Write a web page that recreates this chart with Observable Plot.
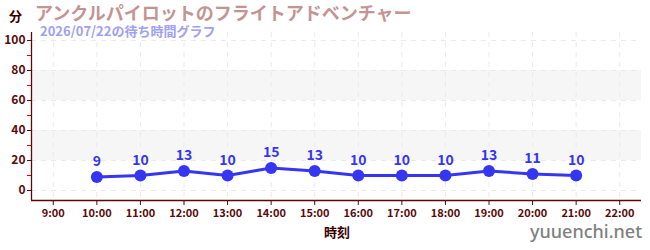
<!DOCTYPE html>
<html><head><meta charset="utf-8">
<script src="https://cdn.jsdelivr.net/npm/d3@7"></script>
<script src="https://cdn.jsdelivr.net/npm/@observablehq/plot@0.6"></script>
<style>
body{margin:0;background:#fff;font-family:"Noto Sans CJK JP","Noto Sans",sans-serif;}
#wrap{position:relative;width:650px;height:250px;overflow:hidden;}
.t{position:absolute;white-space:nowrap;font-weight:bold;line-height:1;}
</style></head>
<body><div id="wrap"></div>
<script>
const title = "アンクルパイロットのフライトアドベンチャー";
const subtitle = "2026/07/22の待ち時間グラフ";
const yUnit = "分";
const xLabel = "時刻";
const site = "yuuenchi.net";
const hours = [10, 11, 12, 13, 14, 15, 16, 17, 18, 19, 20, 21];
const waits = [9, 10, 13, 10, 15, 13, 10, 10, 10, 13, 11, 10];
const xTicks = [9, 10, 11, 12, 13, 14, 15, 16, 17, 18, 19, 20, 21, 22];
const yTicks = [0, 20, 40, 60, 80, 100];
const yMinor = [10, 30, 50, 70, 90];
const bandLo = [20, 60];
const bandHi = [40, 80];

const data = hours.map((h, i) => ({h, w: waits[i]}));
const bands = bandLo.map((lo, i) => ({lo, hi: bandHi[i]}));
const xDom = [8.5, 22.5], yDom = [-6.67, 105.33];
const axisColor = "#5a0a0a";
const blue = "#3636f2";

const chart = Plot.plot({
  width: 650, height: 250,
  marginLeft: 31, marginRight: 9, marginTop: 32, marginBottom: 50,
  x: {domain: xDom, axis: null},
  y: {domain: yDom, axis: null},
  style: {fontFamily: '"Noto Sans CJK JP","Noto Sans",sans-serif', background: "transparent"},
  marks: [
    Plot.rect(bands, {x1: xDom[0], x2: xDom[1], y1: "lo", y2: "hi", fill: "#f6f6f6"}),
    Plot.ruleY(yTicks, {stroke: "#eaeaea", strokeDasharray: "5,5", strokeWidth: 1}),
    Plot.ruleX(xTicks, {stroke: "#eaeaea", strokeDasharray: "5,5", strokeWidth: 1}),
    Plot.axisY({ticks: yMinor, tickFormat: () => "", tickSize: 4, stroke: "#e00000", anchor: "left", label: null}),
    Plot.axisY({ticks: yTicks, tickSize: 4, stroke: axisColor, fill: axisColor, fontSize: 12, fontWeight: "bold", tickPadding: 2, anchor: "left", label: null}),
    Plot.axisX({ticks: xTicks, tickFormat: d => d + ":00", tickSize: 5, stroke: axisColor, fill: axisColor, fontSize: 11, fontWeight: "bold", anchor: "bottom", tickPadding: 4, label: null}),
    Plot.ruleX([xDom[0]], {stroke: axisColor, strokeWidth: 1.3}),
    Plot.ruleY([yDom[0]], {stroke: axisColor, strokeWidth: 1.3}),
    Plot.line(data, {x: "h", y: "w", stroke: blue, strokeWidth: 3}),
    Plot.dot(data, {x: "h", y: "w", fill: blue, r: 6}),
    Plot.text(data, {x: "h", y: "w", text: d => String(d.w), dy: -15, fill: blue, fontSize: 14, fontWeight: "bold"})
  ]
});
const wrap = document.getElementById("wrap");
chart.style.position = "absolute"; chart.style.left = "0"; chart.style.top = "0";
wrap.appendChild(chart);
function addText(txt, css) {
  const d = document.createElement("div");
  d.className = "t"; d.textContent = txt;
  Object.assign(d.style, css);
  wrap.appendChild(d);
}
addText(title, {left: "35px", top: "3px", fontSize: "18px", color: "#c49494"});
addText(subtitle, {left: "40px", top: "24px", fontSize: "13px", color: "#a0a0f4"});
addText(yUnit, {left: "9px", top: "9px", fontSize: "13px", color: "#3a0000"});
addText(xLabel, {left: "324px", top: "225px", fontSize: "13px", color: "#3a0000"});
addText(site, {left: "530px", top: "222px", fontSize: "18px", color: "#808080", fontWeight: "500", fontFamily: '"Noto Sans", "DejaVu Sans", sans-serif'});
</script></body></html>
